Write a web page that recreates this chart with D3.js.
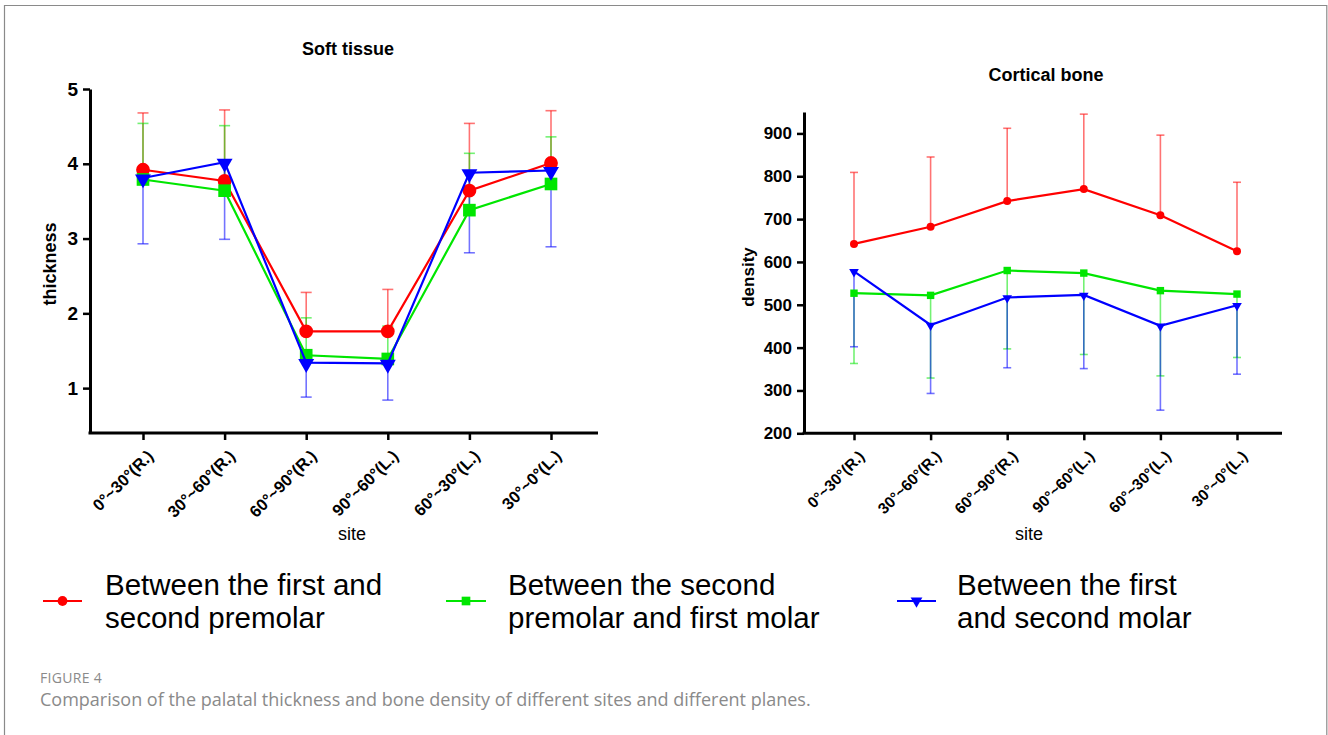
<!DOCTYPE html>
<html>
<head>
<meta charset="utf-8">
<script src="https://cdn.jsdelivr.net/npm/d3@7"></script>
<style>
  html, body { margin: 0; padding: 0; background: #fff; }
  svg { display: block; }
</style>
</head>
<body>
<svg id="fig" width="1328" height="735" font-family="Liberation Sans, Arial, sans-serif"></svg>
<script>
// Measurement sites along the palate
const sites = ["0°~30°(R.)", "30°~60°(R.)", "60°~90°(R.)", "90°~60°(L.)", "60°~30°(L.)", "30°~0°(L.)"];

// Series labels (interdental positions)
const seriesNames = [
  ["Between the first and", "second premolar"],
  ["Between the second", "premolar and first molar"],
  ["Between the first", "and second molar"]
];

// Soft tissue thickness: means and SD
const thickPM = [3.92, 3.77, 1.76, 1.76, 3.64, 4.01];
const thickPMsd = [0.76, 0.95, 0.52, 0.56, 0.90, 0.70];
const thickPMM = [3.79, 3.64, 1.44, 1.39, 3.38, 3.73];
const thickPMMsd = [0.75, 0.87, 0.50, 0.44, 0.76, 0.63];
const thickM = [3.81, 4.02, 1.34, 1.33, 3.88, 3.91];
const thickMsd = [0.88, 1.03, 0.46, 0.49, 1.07, 1.02];

// Cortical bone density: means and SD
const densPM = [642, 682, 742, 770, 709, 625];
const densPMsd = [167, 163, 170, 175, 187, 161];
const densPMM = [527, 522, 580, 574, 533, 525];
const densPMMsd = [164, 193, 183, 190, 199, 148];
const densM = [578, 453, 517, 523, 451, 499];
const densMsd = [176, 160, 164, 172, 197, 161];

// Axis ticks
const thickTicks = [1, 2, 3, 4, 5];
const densTicks = [200, 300, 400, 500, 600, 700, 800, 900];

const colors = ["#ff0000", "#00e600", "#0000ff"];
const symbols = [d3.symbolCircle, d3.symbolSquare, d3.symbolTriangle];

const svg = d3.select("#fig");

// outer frame
const frame = svg.append("g").attr("stroke", "#8a8a8a").attr("stroke-width", 1.2).attr("fill", "none");
frame.append("line").attr("x1", 4).attr("x2", 1327).attr("y1", 5.5).attr("y2", 5.5);
frame.append("line").attr("x1", 4.5).attr("x2", 4.5).attr("y1", 5).attr("y2", 735);
frame.append("line").attr("x1", 1326.8).attr("x2", 1326.8).attr("y1", 5).attr("y2", 735);

function panel(opt) {
  const g = svg.append("g");
  const x = d3.scalePoint(sites, opt.xRange);
  const y = d3.scaleLinear(opt.yDomain, opt.yRange);

  // title
  g.append("text").attr("x", opt.titleX).attr("y", opt.titleY)
    .attr("text-anchor", "middle").attr("font-weight", "bold").attr("font-size", 18)
    .text(opt.title);

  // series: error bars, lines, markers
  opt.series.forEach((s, i) => {
    const col = colors[i];
    const eg = g.append("g").attr("stroke", col).attr("stroke-opacity", 0.55).attr("stroke-width", 1.6);
    s.mean.forEach((m, j) => {
      const end = m + s.dir * s.sd[j];
      const cx = x(sites[j]);
      eg.append("line").attr("x1", cx).attr("x2", cx).attr("y1", y(m)).attr("y2", y(end));
      eg.append("line").attr("x1", cx - opt.cap).attr("x2", cx + opt.cap).attr("y1", y(end)).attr("y2", y(end));
    });
  });
  opt.series.forEach((s, i) => {
    const col = colors[i];
    const line = d3.line().x((d, j) => x(sites[j])).y(d => y(d));
    g.append("path").attr("d", line(s.mean)).attr("fill", "none")
      .attr("stroke", col).attr("stroke-width", 2.2);
    const sym = d3.symbol().type(symbols[i]).size(opt.symSize[i]);
    g.selectAll(null).data(s.mean).join("path")
      .attr("d", sym)
      .attr("fill", col)
      .attr("transform", (d, j) => `translate(${x(sites[j])},${y(d) + (i === 2 ? opt.triShift : 0)})` + (i === 2 ? " rotate(180)" : ""));
  });

  // y axis
  const ya = g.append("g").attr("transform", `translate(${opt.axisX},0)`)
    .call(d3.axisLeft(y).tickValues(opt.ticks).tickFormat(d3.format("d")).tickSize(7).tickSizeOuter(0).tickPadding(5));
  ya.attr("font-family", null);
  ya.select(".domain").attr("stroke", "#000").attr("stroke-width", 3);
  ya.selectAll(".tick line").attr("stroke", "#000").attr("stroke-width", 2.5);
  ya.selectAll(".tick text")
    .attr("font-weight", "bold").attr("font-size", opt.yFont).attr("fill", "#000");

  // x axis
  const baseY = opt.yRange[0];
  const xa = g.append("g").attr("transform", `translate(0,${baseY})`)
    .call(d3.axisBottom(x).tickSize(7).tickSizeOuter(0));
  xa.attr("font-family", null);
  xa.select(".domain").remove();
  xa.selectAll(".tick line").attr("stroke", "#000").attr("stroke-width", 2.5);
  xa.selectAll(".tick text")
    .attr("font-weight", "bold").attr("font-size", opt.xFont).attr("fill", "#000")
    .attr("text-anchor", "end").attr("dy", 0).attr("y", 0)
    .attr("transform", "translate(11,24) rotate(-45)");
  g.append("line").attr("x1", opt.axisX - 1.5).attr("x2", opt.xEnd)
    .attr("y1", baseY).attr("y2", baseY).attr("stroke", "#000").attr("stroke-width", 3);

  // axis titles
  g.append("text").attr("transform", `translate(${opt.yLabX},${opt.yLabY}) rotate(-90)`)
    .attr("text-anchor", "middle").attr("font-weight", "bold").attr("font-size", opt.yLabFont)
    .text(opt.yLabel);
  g.append("text").attr("x", opt.siteX).attr("y", 540).attr("text-anchor", "middle")
    .attr("font-size", 18).text("site");
}

panel({
  title: "Soft tissue", titleX: 348, titleY: 55,
  xRange: [143, 551], axisX: 90, xEnd: 598,
  yDomain: [0.4, 5], yRange: [433, 89], ticks: thickTicks, yFont: 19, xFont: 16.5,
  yLabel: "thickness", yLabX: 56, yLabY: 264, yLabFont: 18, siteX: 352,
  cap: 5.5, symSize: [150, 160, 110], triShift: 1,
  series: [
    { mean: thickPM, sd: thickPMsd, dir: 1 },
    { mean: thickPMM, sd: thickPMMsd, dir: 1 },
    { mean: thickM, sd: thickMsd, dir: -1 }
  ]
});

panel({
  title: "Cortical bone", titleX: 1046, titleY: 81,
  xRange: [854, 1237], axisX: 804, xEnd: 1282,
  yDomain: [200, 950], yRange: [433.3, 112], ticks: densTicks, yFont: 17, xFont: 15.5,
  yLabel: "density", yLabX: 754, yLabY: 277, yLabFont: 17, siteX: 1029,
  cap: 4, symSize: [50, 55, 40], triShift: 0.5,
  series: [
    { mean: densPM, sd: densPMsd, dir: 1 },
    { mean: densPMM, sd: densPMMsd, dir: -1 },
    { mean: densM, sd: densMsd, dir: -1 }
  ]
});

// legend
const legendX = [[43, 82, 105], [446, 486, 508], [897, 936, 957]];
legendX.forEach((p, i) => {
  const lg = svg.append("g");
  lg.append("line").attr("x1", p[0]).attr("x2", p[1]).attr("y1", 601).attr("y2", 601)
    .attr("stroke", colors[i]).attr("stroke-width", 2);
  lg.append("path").attr("d", d3.symbol().type(symbols[i]).size(i === 2 ? 60 : 75))
    .attr("fill", colors[i])
    .attr("transform", `translate(${(p[0] + p[1]) / 2},601)` + (i === 2 ? " rotate(180)" : ""));
  seriesNames[i].forEach((t, k) => {
    lg.append("text").attr("x", p[2]).attr("y", 595 + k * 33)
      .attr("font-size", 29.5).attr("fill", "#000").text(t);
  });
});

// caption
svg.append("text").attr("x", 40).attr("y", 683)
  .attr("font-family", "Open Sans, sans-serif").attr("font-size", 14).attr("fill", "#8a8a8a")
  .attr("letter-spacing", 0.3)
  .text("FIGURE 4");
svg.append("text").attr("x", 40).attr("y", 706)
  .attr("font-family", "Open Sans, sans-serif").attr("font-size", 18).attr("fill", "#8a8a8a")
  .text("Comparison of the palatal thickness and bone density of different sites and different planes.");
</script>
</body>
</html>
